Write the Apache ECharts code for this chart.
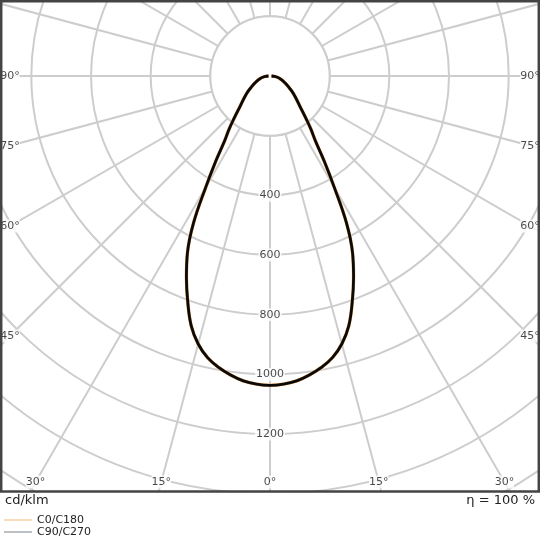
<!DOCTYPE html>
<html>
<head>
<meta charset="utf-8">
<script src="https://cdn.jsdelivr.net/npm/echarts@6/dist/echarts.min.js"></script>
<style>
html,body{margin:0;padding:0;background:#fff;}
#chart{width:540px;height:540px;}
</style>
</head>
<body>
<div id="chart"></div>
<script>
// ---- data ----
const gammaDeg = [0, 2.5, 5, 7.5, 10, 12.5, 15, 17.5, 20, 22.5, 25, 27.5, 30, 32.5, 35, 37.5, 40, 45, 50, 55, 60, 65, 70, 75, 80, 85, 90];
const intensityC0C180 = [1037, 1034, 1026, 1011, 992, 967, 930, 878, 806, 732, 655, 555, 431, 338, 265, 226, 190, 140, 112, 90, 70, 56, 45, 35, 25, 15, 5];
const intensityC90C270 = [1037, 1034, 1026, 1011, 992, 967, 930, 878, 806, 732, 655, 555, 431, 338, 265, 226, 190, 140, 112, 90, 70, 56, 45, 35, 25, 15, 5];
const radiusTickLabels = [400, 600, 800, 1000, 1200];
const angleTickLabels = [0, 15, 30, 45, 60, 75, 90];
const innerEmptyRadius = 200;
const seriesNames = ['C0/C180', 'C90/C270'];

// ---- layout ----
const CX = 270, CY = 76;
const RMAX = 1800;
const RADIUS_PX = 537;
const PX_PER_CD = RADIUS_PX / RMAX;
const FONT = 'DejaVu Sans';
const GRID = '#cdcdcd';

function closedCurve(vals) {
  const pts = [];
  for (let i = gammaDeg.length - 1; i >= 0; i--) pts.push([vals[i], gammaDeg[i]]);
  for (let i = 1; i < gammaDeg.length; i++) pts.push([vals[i], 360 - gammaDeg[i]]);
  return pts;
}

function edgeLabelPoints() {
  const pts = [];
  angleTickLabels.forEach(g => {
    const sides = g === 0 ? [1] : [-1, 1];
    sides.forEach(s => {
      const rad = g * Math.PI / 180;
      const c = Math.cos(rad), sn = Math.sin(rad);
      const tb = c > 1e-6 ? (482 - CY) / c : Infinity;
      const ts = sn > 1e-6 ? (s < 0 ? (CX - 10) : (530 - CX)) / sn : Infinity;
      const t = Math.min(tb, ts);
      const ang = s < 0 ? g : (360 - g) % 360;
      pts.push({ value: [t / PX_PER_CD, ang], label: { formatter: g + '°' } });
    });
  });
  return pts;
}

const chart = echarts.init(document.getElementById('chart'), null, { renderer: 'canvas' });

const option = {
  animation: false,
  backgroundColor: '#fff',
  textStyle: { fontFamily: FONT },
  polar: { center: [CX, CY], radius: RADIUS_PX },
  angleAxis: {
    type: 'value', min: 0, max: 360, interval: 15,
    startAngle: -90, clockwise: true,
    axisLine: { show: false }, axisTick: { show: false }, axisLabel: { show: false },
    splitLine: { show: true, lineStyle: { color: GRID, width: 2 } }
  },
  radiusAxis: {
    type: 'value', min: 0, max: RMAX, interval: 200,
    axisLine: { show: false }, axisTick: { show: false }, axisLabel: { show: false },
    splitLine: { show: true, lineStyle: { color: GRID, width: 2 } }
  },
  legend: {
    orient: 'vertical', left: 4, top: 514, height: 60, z: 100,
    padding: 0, icon: 'rect',
    itemWidth: 28, itemHeight: 1, itemGap: 0,
    textStyle: { fontFamily: FONT, fontSize: 11, color: '#222', lineHeight: 12, padding: [0, 0, 0, 0] },
    data: [
      { name: seriesNames[0], itemStyle: { color: '#f5b870' } },
      { name: seriesNames[1], itemStyle: { color: '#7b8289' } }
    ]
  },
  series: [
    {
      name: seriesNames[0], type: 'line', coordinateSystem: 'polar',
      data: closedCurve(intensityC0C180), showSymbol: false, symbol: 'none',
      smooth: 0.4, z: 3,
      lineStyle: { color: '#e8a050', width: 3.4 }, itemStyle: { color: '#f5b870' }
    },
    {
      name: seriesNames[1], type: 'line', coordinateSystem: 'polar',
      data: closedCurve(intensityC90C270), showSymbol: false, symbol: 'none',
      smooth: 0.4, z: 4,
      lineStyle: { color: '#0a0a0a', width: 2.8 }, itemStyle: { color: '#7b8289' }
    },
    {
      name: 'radiusLabels', type: 'scatter', coordinateSystem: 'polar',
      symbolSize: 0, silent: true, z: 5, legendHoverLink: false,
      data: radiusTickLabels.map(v => [v, 0]),
      label: {
        show: true, position: 'inside', formatter: p => String(p.value[0]),
        fontFamily: FONT, fontSize: 11, color: '#1a1a1a',
        backgroundColor: '#fff', padding: [1, 1]
      }
    },
    {
      name: 'angleLabels', type: 'scatter', coordinateSystem: 'polar',
      symbolSize: 0, silent: true, z: 5,
      data: edgeLabelPoints(),
      label: {
        show: true, position: 'inside',
        fontFamily: FONT, fontSize: 11, color: '#1a1a1a',
        backgroundColor: '#fff', padding: [1, 0]
      }
    }
  ],
  graphic: {
    elements: [
      { type: 'circle', z: 1, shape: { cx: CX, cy: CY, r: innerEmptyRadius * PX_PER_CD }, style: { fill: '#fff', stroke: GRID, lineWidth: 2 }, silent: true },
      { type: 'rect', z: 1, shape: { x: 0, y: 492.5, width: 540, height: 48 }, style: { fill: '#fff' }, silent: true },
      { type: 'rect', z: 60, shape: { x: 1.2, y: 1.2, width: 537.6, height: 490.3 }, style: { fill: null, stroke: '#444', lineWidth: 2.5 }, silent: true },
      { type: 'text', z: 60, x: 5, y: 501, style: { text: 'cd/klm', font: '13px "DejaVu Sans"', fill: '#222', verticalAlign: 'middle', textVerticalAlign: 'middle' } },
      { type: 'text', z: 60, x: 535, y: 501, style: { text: 'η = 100 %', font: '13px "DejaVu Sans"', fill: '#222', align: 'right', textAlign: 'right', verticalAlign: 'middle', textVerticalAlign: 'middle' } }
    ]
  }
};
chart.setOption(option);
</script>
</body>
</html>
